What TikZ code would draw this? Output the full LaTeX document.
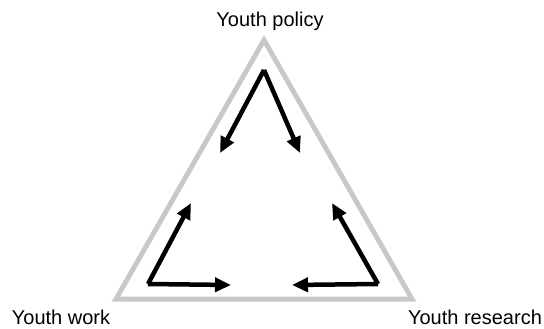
\documentclass[tikz,border=0pt]{standalone}
\usepackage{fontspec}
\setmainfont{Liberation Sans}
\usetikzlibrary{arrows.meta}
\definecolor{tri}{RGB}{200,200,200}
\begin{document}
\begin{tikzpicture}[x=1pt,y=-1pt,
  side/.style={draw=tri,line width=5pt,line join=miter},
  flow/.style={line width=4.5pt,-{Triangle[length=16pt,width=14pt]}},
  lbl/.style={font=\fontsize{20}{22}\selectfont,inner sep=0pt,anchor=base}]
\useasboundingbox (0,0) rectangle (544,329);
\coordinate (A) at (264,40);
\coordinate (B) at (116,299);
\coordinate (C) at (412,299);
\draw[side] (A) -- (B) -- (C) -- cycle;
\coordinate (p) at (264,70);
\coordinate (p1) at (220,153);
\coordinate (p2) at (300,153);
\coordinate (w) at (148,284);
\coordinate (w1) at (191,203);
\coordinate (w2) at (231,285);
\coordinate (r) at (378,284);
\coordinate (r1) at (332,203);
\coordinate (r2) at (292,285);
\draw[flow] (p) -- (p1);
\draw[flow] (p) -- (p2);
\draw[flow] (w) -- (w1);
\draw[flow] (w) -- (w2);
\draw[flow] (r) -- (r1);
\draw[flow] (r) -- (r2);
\node[lbl] (tp) at (270,27) {Youth policy};
\node[lbl] (tw) at (61,324) {Youth work};
\node[lbl] (tr) at (475,324) {Youth research};
\end{tikzpicture}
\end{document}
